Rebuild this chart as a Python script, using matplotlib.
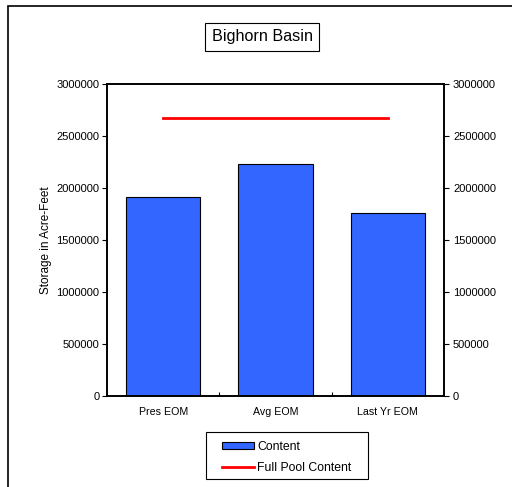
import numpy as np
import matplotlib
matplotlib.use("Agg")
import matplotlib.pyplot as plt
from matplotlib.patches import Rectangle

plt.rcParams['font.family'] = ['Liberation Sans', 'DejaVu Sans']

categories = ['Pres EOM', 'Avg EOM', 'Last Yr EOM']
content = [1911000, 2234000, 1763000]
full_pool = [2670000, 2670000, 2670000]
yticks = [0, 500000, 1000000, 1500000, 2000000, 2500000, 3000000]

fig = plt.figure(figsize=(5.12, 4.87), dpi=100)
ax = fig.add_axes([107/512, 1 - 396/487, 337/512, 312/487])

x = np.arange(len(categories))
bars = ax.bar(x, content, width=0.664, color='#3366ff', edgecolor='black',
              linewidth=0.8, label='Content')
line, = ax.plot(x, full_pool, color='red', linewidth=2, label='Full Pool Content')

ax.set_xlim(-0.5, 2.5)
ax.set_ylim(0, 3000000)
ax.set_yticks(yticks)
ax.set_yticklabels([str(v) for v in yticks], fontsize=8)
ax.set_xticks(x)
ax.set_xticklabels(categories, fontsize=7.7)
ax.tick_params(axis='x', length=0, pad=8)
ax.set_xticks([0.5, 1.5], minor=True)
ax.tick_params(axis='x', which='minor', direction='in', length=3, width=0.8)
ax.tick_params(axis='y', direction='out', length=3.5, width=0.8, pad=2)
for s in ax.spines.values():
    s.set_linewidth(1.2)
ax.set_ylabel('Storage in Acre-Feet', fontsize=8.5, labelpad=3)

ax2 = ax.twinx()
ax2.set_ylim(0, 3000000)
ax2.set_yticks(yticks)
ax2.set_yticklabels([str(v) for v in yticks], fontsize=8)
ax2.tick_params(axis='y', direction='out', length=3.5, width=0.8, pad=3)
for s in ax2.spines.values():
    s.set_linewidth(1.2)

# title in a box
fig.text(262/512, 1 - 37/487, 'Bighorn Basin', fontsize=11.6, ha='center', va='center',
         bbox=dict(boxstyle='square,pad=0.4', facecolor='white', edgecolor='black', linewidth=0.8))

# legend without its own frame, frame drawn separately
leg = fig.legend(handles=[bars, line], loc='upper left', bbox_to_anchor=(222/512, 1 - 441/487),
                 fontsize=8.8, frameon=False,
                 handlelength=2.6, handleheight=0.5, handletextpad=0.3,
                 borderpad=0, labelspacing=0.7, borderaxespad=0)
fig.patches.append(Rectangle((206/512, 1 - 479/487), 162/512, 47/487, transform=fig.transFigure,
                             fill=False, edgecolor='black', linewidth=0.8))

# outer chart border (top and left visible)
fig.patches.append(Rectangle((8/512, -0.1), 1.2, 1 - 6/487 + 0.1, transform=fig.transFigure,
                             fill=False, edgecolor='black', linewidth=1.2))

fig.savefig('out.png', dpi=100)
